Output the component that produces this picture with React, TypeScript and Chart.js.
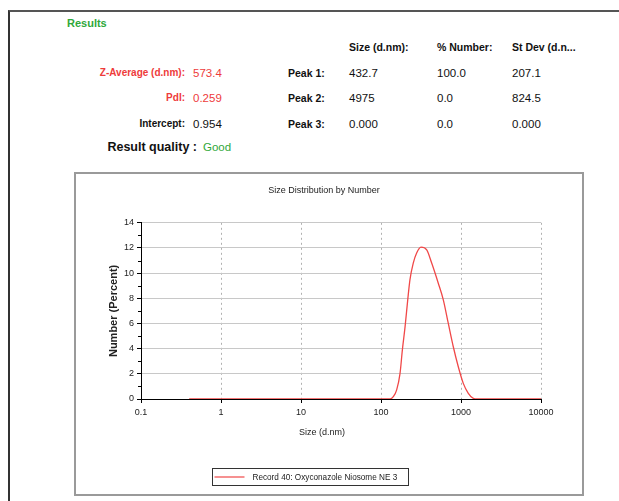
import React, { useEffect, useRef } from "react";
import { Chart, registerables } from "chart.js";

Chart.register(...registerables);

// ---- Data ----
const SIZES_NM = [0.4, 1, 10, 100, 130, 142.5, 157, 173, 185, 200, 216, 230, 253, 279, 316, 373, 430, 520, 601, 694, 801, 925, 1068, 1234, 1425, 1600, 10000];
const NUMBER_PCT = [0, 0, 0, 0, 0, 0.18, 0.72, 2.04, 3.9, 5.75, 7.9, 9.47, 10.8, 11.6, 12.07, 11.85, 10.8, 9.2, 7.88, 6.0, 4.15, 2.56, 1.24, 0.45, 0.05, 0, 0];

const X_TICKS = [0.1, 1, 10, 100, 1000, 10000];
const X_TICK_LABELS = ["0.1", "1", "10", "100", "1000", "10000"];
const Y_MIN = 0;
const Y_MAX = 14;
const Y_STEP = 2;

const CHART_TITLE = "Size Distribution by Number";
const X_TITLE = "Size (d.nm)";
const Y_TITLE = "Number (Percent)";
const LEGEND_LABEL = "Record 40: Oxyconazole Niosome NE 3";

const RESULTS_TITLE = "Results";
const SUMMARY_LABELS = ["Z-Average (d.nm):", "PdI:", "Intercept:"];
const SUMMARY_VALUES = ["573.4", "0.259", "0.954"];
const QUALITY_LABEL = "Result quality :";
const QUALITY_VALUE = "Good";

const PEAK_COLUMNS = ["Size (d.nm):", "% Number:", "St Dev (d.n..."];
const PEAK_LABELS = ["Peak 1:", "Peak 2:", "Peak 3:"];
const PEAK_SIZE = ["432.7", "4975", "0.000"];
const PEAK_NUMBER = ["100.0", "0.0", "0.0"];
const PEAK_STDEV = ["207.1", "824.5", "0.000"];

const FONT = '"Liberation Sans", Arial, sans-serif';
const RED = "#ee3b3b";
const GREEN = "#2fa83a";
const CURVE = "#f04848";

const overlayPlugin = {
  id: "overlay",
  afterDraw(chart: any) {
    const { ctx, chartArea, scales } = chart;
    const y = scales.y;
    ctx.save();
    // minor ticks on the y axis
    ctx.strokeStyle = "#000";
    ctx.lineWidth = 1;
    for (let v = Y_MIN + 1; v < Y_MAX; v += Y_STEP) {
      const py = Math.round(y.getPixelForValue(v)) + 0.5;
      ctx.beginPath();
      ctx.moveTo(chartArea.left - 3, py);
      ctx.lineTo(chartArea.left, py);
      ctx.stroke();
    }
    // x axis title
    ctx.fillStyle = "#222";
    ctx.font = `9px ${FONT}`;
    ctx.textAlign = "center";
    ctx.textBaseline = "middle";
    ctx.fillText(X_TITLE, 246, 259);
    // legend box
    const lx = 136.5, ly = 294.5, lw = 196, lh = 17;
    ctx.strokeStyle = "#333";
    ctx.strokeRect(lx, ly, lw, lh);
    ctx.strokeStyle = CURVE;
    ctx.lineWidth = 1.2;
    ctx.beginPath();
    ctx.moveTo(lx + 2, ly + lh / 2);
    ctx.lineTo(lx + 32, ly + lh / 2);
    ctx.stroke();
    ctx.textAlign = "left";
    ctx.fillStyle = "#222";
    ctx.font = `8.2px ${FONT}`;
    ctx.fillText(LEGEND_LABEL, lx + 40, ly + lh / 2 + 0.5);
    ctx.restore();
  },
};

function SizeChart() {
  const ref = useRef<HTMLCanvasElement | null>(null);
  useEffect(() => {
    if (!ref.current) return;
    const chart = new Chart(ref.current, {
      type: "line",
      data: {
        datasets: [
          {
            label: LEGEND_LABEL,
            data: SIZES_NM.map((s, i) => ({ x: s, y: NUMBER_PCT[i] })),
            borderColor: CURVE,
            borderWidth: 1.3,
            pointRadius: 0,
            cubicInterpolationMode: "monotone",
            fill: false,
          },
        ],
      },
      options: {
        animation: false,
        responsive: false,
        devicePixelRatio: 1,
        layout: { padding: { left: 31, right: 41, top: 0, bottom: 55 } },
        plugins: {
          legend: { display: false },
          tooltip: { enabled: false },
          title: {
            display: true,
            text: CHART_TITLE,
            color: "#222",
            font: { family: FONT, size: 9, weight: "normal" },
            padding: { top: 11, bottom: 27 },
          },
        },
        scales: {
          x: {
            type: "logarithmic",
            min: X_TICKS[0],
            max: X_TICKS[X_TICKS.length - 1],
            afterBuildTicks: (axis: any) => {
              axis.ticks = X_TICKS.map((v) => ({ value: v, major: true }));
            },
            afterFit: (axis: any) => {
              axis.height = 40;
            },
            ticks: {
              autoSkip: false,
              maxRotation: 0,
              color: "#222",
              padding: 4,
              font: { family: FONT, size: 9 },
              callback: (value: any) => {
                const idx = X_TICKS.indexOf(Number(value));
                return idx >= 0 ? X_TICK_LABELS[idx] : "";
              },
            },
            grid: {
              color: "#b0b0b0",
              lineWidth: 1,
              tickLength: 4,
              tickColor: "#000",
            },
            border: { display: true, color: "#000", width: 1, dash: [2, 3] },
          },
          y: {
            min: Y_MIN,
            max: Y_MAX,
            afterFit: (axis: any) => {
              axis.width = 34;
            },
            ticks: {
              stepSize: Y_STEP,
              color: "#222",
              padding: 3,
              font: { family: FONT, size: 9 },
            },
            title: {
              display: true,
              text: Y_TITLE,
              color: "#222",
              padding: 0,
              font: { family: FONT, size: 11, weight: "bold" },
            },
            grid: {
              color: "#c8c8c8",
              lineWidth: 1,
              tickLength: 4,
              tickColor: "#000",
            },
            border: { display: true, color: "#000", width: 1 },
          },
        },
      },
      plugins: [overlayPlugin],
    } as any);
    return () => chart.destroy();
  }, []);
  return <canvas ref={ref} width={506} height={320} style={{ display: "block", width: 506, height: 320 }} />;
}

const abs = (left: number, top: number, extra: React.CSSProperties = {}): React.CSSProperties => ({
  position: "absolute",
  left,
  top,
  lineHeight: "12px",
  whiteSpace: "nowrap",
  ...extra,
});

export default function App() {
  const rowY = [73, 98, 124];
  const colX = [349, 437, 512];
  const peakCols = [PEAK_SIZE, PEAK_NUMBER, PEAK_STDEV];
  return (
    <div
      style={{
        position: "absolute",
        left: 0,
        top: 0,
        width: 619,
        height: 501,
        background: "#fff",
        overflow: "hidden",
        fontFamily: FONT,
        fontSize: 10,
        color: "#111",
      }}
    >
      {/* outer frame */}
      <div
        style={{
          position: "absolute",
          left: 8,
          top: 10,
          width: 620,
          height: 520,
          borderLeft: "2px solid #333",
          borderTop: "2px solid #555",
        }}
      />
      <div style={abs(67, 17, { color: GREEN, fontWeight: "bold", fontSize: 11 })}>{RESULTS_TITLE}</div>

      {SUMMARY_LABELS.map((lab, i) => (
        <div
          key={lab}
          style={abs(0, rowY[i] - 6, {
            width: 185,
            textAlign: "right",
            fontWeight: "bold",
            fontSize: 10,
            color: i < 2 ? RED : "#111",
          })}
        >
          {lab}
        </div>
      ))}
      {SUMMARY_VALUES.map((v, i) => (
        <div key={"v" + i} style={abs(193, rowY[i] - 6, { fontSize: 11.5, color: i < 2 ? RED : "#111" })}>
          {v}
        </div>
      ))}
      <div style={abs(0, 147 - 6, { width: 197, textAlign: "right", fontWeight: "bold", fontSize: 12.5 })}>
        {QUALITY_LABEL}
      </div>
      <div style={abs(203, 147 - 6, { fontSize: 11.5, color: GREEN })}>{QUALITY_VALUE}</div>

      {PEAK_COLUMNS.map((c, j) => (
        <div key={c} style={abs(colX[j], 47 - 6, { fontWeight: "bold", fontSize: 10.5 })}>
          {c}
        </div>
      ))}
      {PEAK_LABELS.map((p, i) => (
        <div key={p} style={abs(288, rowY[i] - 6, { fontWeight: "bold", fontSize: 10.5 })}>
          {p}
        </div>
      ))}
      {peakCols.map((col, j) =>
        col.map((v, i) => (
          <div key={j + "-" + i} style={abs(colX[j], rowY[i] - 6, { fontSize: 11.5 })}>
            {v}
          </div>
        ))
      )}

      {/* chart box */}
      <div
        style={{
          position: "absolute",
          left: 74,
          top: 172,
          width: 506,
          height: 320,
          border: "2px solid #9a9a9a",
          background: "#fff",
        }}
      >
        <SizeChart />
      </div>
    </div>
  );
}
